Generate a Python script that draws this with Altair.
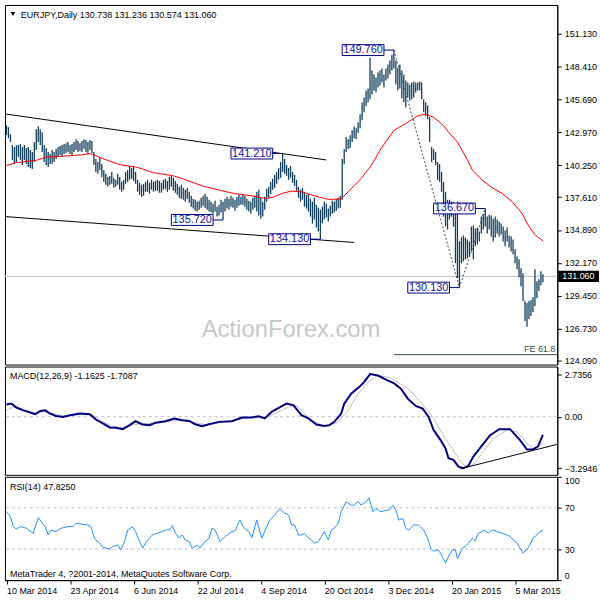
import altair as alt
import pandas as pd

FONT = "Liberation Sans"
BAR_COLOR = "#123f5c"
NAVY = "#000080"
SLATE = "#2f4f4f"
SILVER = "#c0c0c0"

# ---------------- data ----------------
highs = [
    143.55, 143.39, 142.81, 141.91, 141.75, 141.91, 141.91, 141.99, 141.75, 141.91,
    141.66, 141.75, 141.50, 141.33, 142.16, 143.22, 143.47, 143.22, 142.98, 141.91,
    141.66, 141.33, 141.17, 141.50, 141.33, 141.58, 141.75, 141.83, 141.91, 141.99,
    142.07, 142.16, 141.91, 141.99, 142.16, 142.40, 142.24, 142.07, 142.24, 142.40,
    142.32, 142.16, 142.32, 142.24, 141.33, 140.76, 140.51, 140.92, 140.35, 139.86,
    139.53, 139.28, 139.36, 139.69, 139.20, 139.04, 139.53, 139.28, 138.87, 139.04,
    139.69, 139.86, 140.19, 140.02, 140.10, 139.69, 139.04, 138.79, 138.63, 138.71,
    138.87, 139.04, 138.79, 139.04, 138.87, 138.95, 139.04, 138.95, 138.79, 139.04,
    139.12, 138.95, 139.28, 139.45, 139.20, 138.95, 138.71, 138.46, 138.63, 138.38,
    138.22, 138.38, 138.05, 137.72, 137.48, 137.39, 137.23, 137.31, 137.56, 137.72,
    137.89, 137.64, 137.39, 137.23, 137.07, 137.31, 136.82, 136.98, 137.39, 137.23,
    137.48, 137.64, 137.48, 137.72, 137.56, 137.39, 137.64, 137.80, 137.64, 137.89,
    137.72, 137.48, 137.31, 137.23, 137.56, 137.72, 138.05, 138.22, 137.56, 137.23,
    137.64, 138.30, 138.46, 138.87, 139.12, 139.45, 139.69, 140.02, 140.51, 141.21,
    140.76, 140.27, 140.02, 140.19, 139.69, 139.45, 139.04, 138.46, 138.22, 138.38,
    138.05, 137.80, 137.89, 137.48, 137.23, 137.56, 136.98, 136.74, 136.57, 136.82,
    137.23, 137.07, 136.66, 136.90, 137.31, 137.23, 137.48, 137.56, 137.72, 140.76,
    141.58, 142.57, 142.40, 142.73, 143.14, 143.47, 143.31, 143.80, 144.45, 145.44,
    145.85, 146.43, 146.59, 149.13, 148.07, 147.74, 147.49, 147.90, 148.07, 148.23,
    147.74, 148.23, 148.56, 148.89, 149.38, 149.76, 148.89, 148.31, 148.56, 148.07,
    147.74, 147.25, 147.08, 146.92, 147.08, 147.16, 147.08, 147.08, 147.16, 147.08,
    145.69, 145.44, 145.19, 144.21, 141.75, 141.58, 141.33, 140.51, 140.35, 139.69,
    138.87, 138.05, 137.39, 137.39, 137.23, 137.23, 136.82, 137.23, 133.95, 134.27,
    134.44, 134.27, 134.11, 133.95, 135.18, 135.26, 135.01, 135.10, 134.77, 136.00,
    136.24, 136.67, 136.00, 136.16, 136.08, 135.83, 136.00, 135.75, 135.59, 135.42,
    135.18, 134.85, 135.10, 134.44, 134.36, 134.11, 133.29, 132.71, 132.47, 131.73,
    131.32, 129.02, 128.86, 129.02, 129.10, 129.35, 131.65, 130.66, 130.83, 131.48,
    131.236,
]
lows = [
    142.73, 142.48, 142.16, 140.68, 140.35, 140.51, 140.92, 140.68, 140.27, 140.68,
    140.35, 140.10, 140.02, 139.94, 140.51, 141.50, 142.16, 141.91, 141.33, 140.51,
    140.27, 140.10, 140.35, 140.35, 140.51, 140.76, 140.92, 141.09, 140.92, 141.17,
    141.25, 141.33, 141.17, 141.09, 141.33, 141.50, 141.33, 141.42, 141.33, 141.58,
    141.33, 141.17, 141.50, 141.25, 140.27, 139.69, 139.53, 139.86, 139.28, 138.87,
    138.63, 138.46, 138.63, 138.71, 138.38, 138.46, 138.63, 138.22, 138.05, 138.22,
    138.71, 138.87, 139.04, 139.12, 138.95, 138.71, 138.05, 137.80, 137.64, 137.72,
    138.05, 138.05, 137.89, 138.22, 138.05, 138.13, 138.13, 137.97, 137.97, 138.22,
    138.30, 138.05, 138.22, 138.46, 138.13, 137.97, 137.80, 137.56, 137.48, 137.39,
    137.23, 137.48, 137.15, 136.82, 136.66, 136.49, 136.41, 136.57, 136.74, 136.90,
    136.74, 136.57, 136.41, 136.33, 136.24, 136.41, 136.00, 136.08, 136.33, 135.72,
    136.41, 136.66, 136.57, 136.82, 136.74, 136.49, 136.74, 136.90, 136.98, 136.98,
    136.82, 136.57, 136.41, 136.24, 136.57, 136.74, 136.41, 136.08, 135.83, 136.00,
    136.57, 137.23, 137.56, 137.89, 138.22, 138.38, 138.71, 139.04, 139.20, 139.69,
    139.53, 139.36, 139.04, 139.20, 138.79, 138.54, 138.13, 137.56, 137.23, 137.39,
    136.82, 136.66, 136.41, 136.00, 135.42, 135.75, 135.10, 134.77, 134.13, 135.42,
    135.75, 135.92, 135.59, 136.00, 136.24, 136.33, 136.49, 136.66, 136.74, 137.39,
    140.35, 141.33, 141.58, 141.66, 142.16, 142.48, 142.40, 142.90, 143.31, 143.96,
    144.62, 145.11, 145.44, 145.69, 146.10, 146.43, 146.26, 146.67, 146.84, 147.08,
    146.67, 147.25, 147.41, 147.74, 148.07, 148.23, 146.92, 146.43, 146.59, 145.77,
    145.44, 145.03, 145.85, 145.60, 145.69, 145.85, 146.26, 146.43, 146.43, 145.69,
    144.62, 144.29, 144.04, 142.16, 140.51, 140.68, 140.27, 139.04, 138.87, 138.05,
    136.00, 135.18, 134.93, 135.75, 136.00, 135.18, 132.14, 130.91, 130.13, 132.14,
    132.30, 132.47, 132.55, 132.71, 133.12, 132.47, 133.54, 133.70, 133.95, 134.60,
    134.93, 135.18, 134.60, 134.93, 134.36, 133.95, 134.27, 134.60, 134.36, 134.52,
    133.95, 133.54, 133.95, 133.45, 133.12, 132.88, 132.14, 131.65, 130.99, 130.25,
    129.02, 127.38, 126.89, 127.54, 127.79, 128.12, 128.61, 129.27, 129.84, 130.33,
    130.574,
]

ma_idx = [0, 5, 15, 20, 30, 38.5, 42, 43.5, 48.5, 57, 65, 68.5, 73.5, 83.5, 88.5,
          98.5, 107, 115, 118.5, 125, 130, 132, 135, 138.5, 143.5, 148.5, 155, 162,
          168.5, 172, 178.5, 183.5, 188.5, 195, 202, 207, 211, 215, 220, 222.5, 227,
          232, 234.5, 239.5, 244.5, 249.5, 254.5, 259.5, 262.5, 266, 270]
ma_val = [140.23, 140.46, 140.65, 140.92, 141.01, 141.11, 141.20, 141.13, 140.79,
          140.29, 140.10, 139.94, 139.64, 139.39, 139.14, 138.54, 138.19, 137.89,
          137.83, 137.68, 137.50, 137.52, 137.64, 137.91, 138.11, 138.05, 137.72,
          137.42, 137.45, 138.05, 139.14, 140.19, 141.61, 143.12, 143.80, 144.33,
          144.46, 144.21, 143.53, 142.98, 142.16, 140.68, 139.86, 139.01, 138.38,
          137.91, 137.23, 136.27, 135.32, 134.50, 134.00]

macd_idx = [0, 2.5, 5, 8.5, 12, 14.5, 17, 19.5, 22, 25, 28.5, 32, 37, 42, 45, 48.5,
            52, 55, 58.5, 62, 65, 68.5, 72, 75, 80, 84.5, 88.5, 92, 95, 98.5, 102,
            107, 113.5, 118.5, 123.5, 127, 130, 133.5, 137, 141, 144.5, 148.5, 152,
            156, 160, 162.5, 165, 168.5, 170, 173.5, 177.5, 180, 183, 187, 192, 195,
            198.5, 202, 206, 209.5, 212.5, 215, 218.5, 221, 222.5, 225, 227.5, 230,
            232.5, 235, 239.5, 243.5, 248, 253.5, 258.5, 262, 265, 267.5, 270]
macd_val = [0.78, 0.84, 0.59, 0.41, 0.27, 0.16, 0.37, 0.41, 0.20, 0.05, -0.01, 0.10,
            0.20, 0.16, -0.18, -0.43, -0.69, -0.71, -0.80, -0.54, -0.29, -0.50, -0.54,
            -0.39, -0.29, -0.11, -0.22, -0.27, -0.48, -0.61, -0.48, -0.33, -0.29,
            -0.05, -0.05, 0.03, -0.11, 0.31, 0.56, 0.84, 0.73, 0.10, -0.11, -0.50,
            -0.59, -0.54, -0.33, 0.20, 0.84, 1.48, 1.90, 2.22, 2.7356, 2.64, 2.32,
            2.15, 1.80, 1.16, 0.69, 0.52, -0.01, -0.86, -1.50, -2.03, -2.66, -2.77,
            -3.20, -3.2946, -3.15, -2.56, -1.82, -1.18, -0.80, -0.80, -1.50, -2.10,
            -2.10, -1.92, -1.1625]

sig_idx = [0, 4.5, 8.5, 13.5, 18.5, 23.5, 28.5, 37, 43.5, 48.5, 53.5, 58.5, 63.5,
           68.5, 75, 82, 88.5, 95, 100, 107, 115, 123.5, 130, 135, 142, 146, 148.5,
           153.5, 158.5, 162, 167, 172, 177, 182, 187, 192, 195, 202, 208.5, 215, 222,
           227, 231, 235, 240, 245, 252, 257, 262, 265, 270]
sig_val = [0.41, 0.67, 0.46, 0.20, 0.31, 0.20, 0.05, 0.14, 0.10, -0.33, -0.61, -0.69,
           -0.54, -0.43, -0.43, -0.29, -0.22, -0.39, -0.50, -0.39, -0.22, -0.05, -0.05,
           0.20, 0.62, 0.73, 0.41, -0.22, -0.54, -0.61, -0.33, 0.41, 1.48, 2.22, 2.64,
           2.54, 2.37, 1.80, 0.94, -0.11, -1.61, -2.56, -3.20, -3.09, -2.24, -1.39,
           -0.86, -0.97, -1.71, -2.03, -1.7087]

rsi_idx = [0, 2, 3.5, 5, 7, 10, 13.5, 16, 17.5, 19.5,
           21, 22.5, 25, 27.5, 31, 33.5, 35, 38.5, 41, 42.5,
           44.5, 47, 48.5, 52, 53.5, 56, 57.5, 59.5, 61, 63.5,
           65, 67, 68.5, 71, 73.5, 76, 78.5, 80, 82, 83.5,
           85, 87, 88.5, 90, 92, 93.5, 96, 97.5, 99.5, 102,
           103.5, 105, 107.5, 110, 113.5, 115, 117.5, 119.5, 122, 123.5,
           126, 128.5, 131, 132.5, 135, 137.5, 139.5, 142, 143.5, 145,
           147, 148.5, 150, 152, 153.5, 155, 157, 158.5, 160, 162,
           163.5, 165, 167, 168.5, 171, 173.5, 175, 177, 178.5, 181,
           182.5, 184.5, 186, 188.5, 191, 192.5, 194.5, 196, 197.5, 199.5,
           201, 202.5, 205, 207.5, 210, 212, 213.5, 215, 217, 218.5,
           221, 222.5, 224.5, 226, 227, 229.5, 231, 232.5, 234.5, 236,
           237.5, 239.5, 241, 242.5, 244.5, 247, 249.5, 252, 253.5, 255,
           257, 258.5, 260, 262, 263.5, 265, 267, 268.5, 270]
rsi_val = [66.2, 61.4, 51.8, 49.5, 51.8, 50.2, 45.4, 60.4, 56.6, 51.8,
           43.7, 48.5, 47.0, 50.2, 51.8, 51.8, 55.0, 54.0, 53.3, 51.8,
           39.6, 35.8, 31.7, 30.0, 32.6, 34.1, 29.4, 37.4, 48.5, 51.8,
           47.0, 37.4, 31.0, 38.9, 43.7, 45.4, 47.0, 48.5, 48.5, 52.8,
           45.4, 40.6, 43.7, 38.9, 37.4, 31.0, 34.1, 31.0, 36.7, 40.6,
           50.2, 48.5, 37.4, 42.2, 47.0, 47.6, 58.1, 50.2, 47.0, 41.2,
           58.1, 40.6, 51.8, 58.1, 62.9, 69.4, 65.5, 62.9, 53.3, 53.3,
           43.7, 43.7, 45.4, 40.6, 38.9, 35.8, 37.4, 42.2, 47.0, 38.9,
           48.5, 50.2, 55.0, 66.2, 75.8, 72.5, 72.5, 76.4, 72.5, 75.8,
           79.6, 66.2, 69.4, 66.2, 67.7, 67.7, 72.5, 67.7, 58.1, 59.8,
           50.2, 48.5, 53.3, 53.3, 48.5, 40.6, 31.0, 27.8, 29.4, 26.2,
           16.6, 23.0, 29.4, 29.4, 20.7, 31.0, 32.6, 35.8, 40.6, 38.0,
           45.4, 47.0, 48.5, 45.4, 48.5, 47.0, 45.4, 43.7, 42.2, 38.9,
           35.8, 31.0, 26.2, 29.4, 34.1, 40.6, 43.7, 47.0, 47.825]

price_ticks = [151.13, 148.41, 145.69, 142.97, 140.25, 137.61, 134.89, 132.17,
               129.45, 126.73, 124.09]
macd_ticks = [2.7356, 0.0, -3.2946]
rsi_ticks = [100, 70, 30, 0]
rsi_levels = [70, 30]
date_ticks = [0, 32, 64, 96, 128, 160, 192, 224, 256]
date_labels = ["10 Mar 2014", "23 Apr 2014", "6 Jun 2014", "22 Jul 2014",
               "4 Sep 2014", "20 Oct 2014", "3 Dec 2014", "20 Jan 2015", "5 Mar 2015"]

swing_labels = ["149.760", "141.210", "135.720", "134.130", "130.130", "136.670"]
swing_label_idx = [195, 139, 109, 158, 228, 241]
swing_label_price = [149.76, 141.21, 135.72, 134.13, 130.13, 136.67]

channel_id = ["upper", "upper", "lower", "lower"]
channel_idx = [-0.5, 161, -0.5, 175]
channel_price = [144.48, 140.68, 136.00, 133.86]

swing_idx = [195, 228, 241]
swing_price = [149.76, 130.13, 136.67]

fe_idx = [195, 277.25]
fe_price = [124.59]
last_close = [131.06]

macd_trend_idx = [228.5, 277.25]
macd_trend_val = [-3.34, -1.77]

title_main = "EURJPY,Daily  130.738 131.236 130.574 131.060"
title_macd = "MACD(12,26,9) -1.1625 -1.7087"
title_rsi = "RSI(14) 47.8250"
footer = "MetaTrader 4, ?2001-2014, MetaQuotes Software Corp."
watermark = "ActionForex.com"

# ---------------- chart ----------------
n = len(highs)
xs = alt.Scale(domain=[-0.75, 277.25], nice=False, zero=False)
yp = alt.Scale(domain=[123.77, 153.49], nice=False, zero=False)
ym = alt.Scale(domain=[-3.726, 3.217], nice=False, zero=False)
yr = alt.Scale(domain=[0, 100], nice=False, zero=False)
one = pd.DataFrame({"k": [0]})

price_axis = alt.Axis(orient="right", values=price_ticks, format=".3f", title=None,
                      grid=False, labelFlush=False)
macd_axis = alt.Axis(orient="right", values=macd_ticks, title=None, grid=False,
                     labelFlush=False,
                     labelExpr="datum.value == 0 ? '0.00' : format(datum.value, '.4f')")
rsi_axis = alt.Axis(orient="right", values=rsi_ticks, title=None, grid=False,
                    labelFlush=True, format="d")
js_labels = "[" + ",".join("'" + s + "'" for s in date_labels) + "]"
js_ticks = "[" + ",".join(str(t) for t in date_ticks) + "]"
date_axis = alt.Axis(values=date_ticks, title=None, grid=False, labelAlign="left",
                     labelFlush=False, labelOverlap=False, labelPadding=2,
                     labelExpr=js_labels + "[indexof(" + js_ticks + ", datum.value)]")


def X(f):
    return alt.X(f, type="quantitative", scale=xs, axis=None)


def YP(f):
    return alt.Y(f, type="quantitative", scale=yp, axis=price_axis)


def YM(f):
    return alt.Y(f, type="quantitative", scale=ym, axis=macd_axis)


def YR(f):
    return alt.Y(f, type="quantitative", scale=yr, axis=rsi_axis)


def txt(s, x, y, **kw):
    opts = dict(text=s, align="left", baseline="alphabetic", font=FONT,
                fontSize=9, color="black")
    opts.update(kw)
    return alt.Chart(one).mark_text(**opts).encode(x=alt.value(x), y=alt.value(y))


bars_df = pd.DataFrame({"i": list(range(n)), "high": highs, "low": lows})
ma_df = pd.DataFrame({"i": ma_idx, "v": ma_val})
chan_df = pd.DataFrame({"g": channel_id, "i": channel_idx, "p": channel_price})
swing_df = pd.DataFrame({"i": swing_idx, "p": swing_price})
fe_df = pd.DataFrame({"i": [fe_idx[0]], "i2": [fe_idx[1]], "p": fe_price})
last_df = pd.DataFrame({"p": last_close})
last_df["t"] = last_df["p"].map(lambda v: f"{v:.3f}")
last_df["p1"] = last_df["p"] - 0.47
last_df["p2"] = last_df["p"] + 0.47

lab = pd.DataFrame({"t": swing_labels, "i": swing_label_idx, "p": swing_label_price})
lab["l"] = lab["i"] - 26
lab["r"] = lab["i"] - 5
lab["c"] = lab["i"] - 15.5
lab["p1"] = lab["p"] - 0.45
lab["p2"] = lab["p"] + 0.45

cur_line = alt.Chart(last_df).mark_rule(color=SILVER, strokeWidth=1).encode(y=YP("p"))
channels = alt.Chart(chan_df).mark_line(color="black", strokeWidth=1, clip=True).encode(
    x=X("i"), y=YP("p"), detail="g:N")
fe_rule = alt.Chart(fe_df).mark_rule(color=SLATE, strokeWidth=1).encode(
    x=X("i"), x2="i2:Q", y=YP("p"))
wm = txt(watermark, 288, 334, align="center", fontSize=24, color="#c8c8c8")
bars = alt.Chart(bars_df).mark_rule(color=BAR_COLOR, strokeWidth=1.3).encode(
    x=X("i"), y=YP("low"), y2="high:Q")
ma = alt.Chart(ma_df).mark_line(color="#ff0000", strokeWidth=1).encode(
    x=X("i"), y=YP("v"))
boxes = alt.Chart(lab).mark_rect(fill="white", stroke=NAVY, strokeWidth=1).encode(
    x=X("l"), x2="r:Q", y=YP("p1"), y2="p2:Q")
conns = alt.Chart(lab).mark_rule(color=NAVY, strokeWidth=1).encode(
    x=X("r"), x2="i:Q", y=YP("p"))
labtext = alt.Chart(lab).mark_text(color="#1010a0", font=FONT, fontSize=11,
                                   baseline="middle").encode(
    x=X("c"), y=YP("p"), text="t:N")
swing = alt.Chart(swing_df).mark_line(color=SLATE, strokeWidth=1,
                                      strokeDash=[2, 2]).encode(x=X("i"), y=YP("p"))
fe_text = alt.Chart(fe_df).mark_text(text="FE 61.8", align="right", baseline="alphabetic",
                                     dy=-3, font=FONT, fontSize=9, color=SLATE).encode(
    x=alt.value(554), y=YP("p"))
title1 = txt(title_main, 16, 13)
tri = alt.Chart(one).mark_point(shape="triangle-down", filled=True, size=22,
                                color="black", opacity=1).encode(
    x=alt.value(8), y=alt.value(9))
tag_rect = alt.Chart(last_df).mark_rect(color="black", clip=False).encode(
    x=alt.value(557), x2=alt.value(598), y=YP("p1"), y2="p2:Q")
tag_text = alt.Chart(last_df).mark_text(color="white", align="left", baseline="middle",
                                        font=FONT, fontSize=9, clip=False).encode(
    x=alt.value(561), y=YP("p"), text="t:N")

main = alt.layer(cur_line, channels, fe_rule, wm, bars, ma, boxes, conns, labtext,
                 swing, fe_text, title1, tri, tag_rect, tag_text).properties(
    width=556, height=362)

# MACD panel
macd_df = pd.DataFrame({"i": macd_idx, "v": macd_val})
sig_df = pd.DataFrame({"i": sig_idx, "v": sig_val})
mtr_df = pd.DataFrame({"i": macd_trend_idx, "v": macd_trend_val})
zero_df = pd.DataFrame({"v": [0.0]})
zero = alt.Chart(zero_df).mark_rule(color=SILVER, strokeDash=[3, 3]).encode(y=YM("v"))
sig = alt.Chart(sig_df).mark_line(color=SILVER, strokeWidth=1).encode(x=X("i"), y=YM("v"))
mline = alt.Chart(macd_df).mark_line(color=NAVY, strokeWidth=2).encode(x=X("i"), y=YM("v"))
mtr = alt.Chart(mtr_df).mark_line(color="black", strokeWidth=1).encode(x=X("i"), y=YM("v"))
macd = alt.layer(zero, sig, mline, mtr, txt(title_macd, 5, 13)).properties(
    width=556, height=109)

# RSI panel
rsi_df = pd.DataFrame({"i": rsi_idx, "v": rsi_val})
lvl_df = pd.DataFrame({"v": rsi_levels})
lvls = alt.Chart(lvl_df).mark_rule(color=SILVER, strokeDash=[3, 3]).encode(y=YR("v"))
rline = alt.Chart(rsi_df).mark_line(color="#1e90ff", strokeWidth=1).encode(
    x=alt.X("i:Q", scale=xs, axis=date_axis), y=YR("v"))
rsi = alt.layer(lvls, rline, txt(title_rsi, 5, 13), txt(footer, 5, 101)).properties(
    width=556, height=104)

chart = alt.vconcat(main, macd, rsi, spacing=2, bounds="flush").properties(
    padding={"left": 2, "top": 2, "right": 0, "bottom": 0}
).configure(background="white").configure_view(
    stroke="black", strokeWidth=1
).configure_axis(
    labelFont=FONT, labelFontSize=9, labelColor="black", domainColor="black",
    tickColor="black", tickSize=4, labelPadding=3, domainWidth=1, tickWidth=1
)

chart.save("out.html", embed_options={"renderer": "svg", "actions": False})
